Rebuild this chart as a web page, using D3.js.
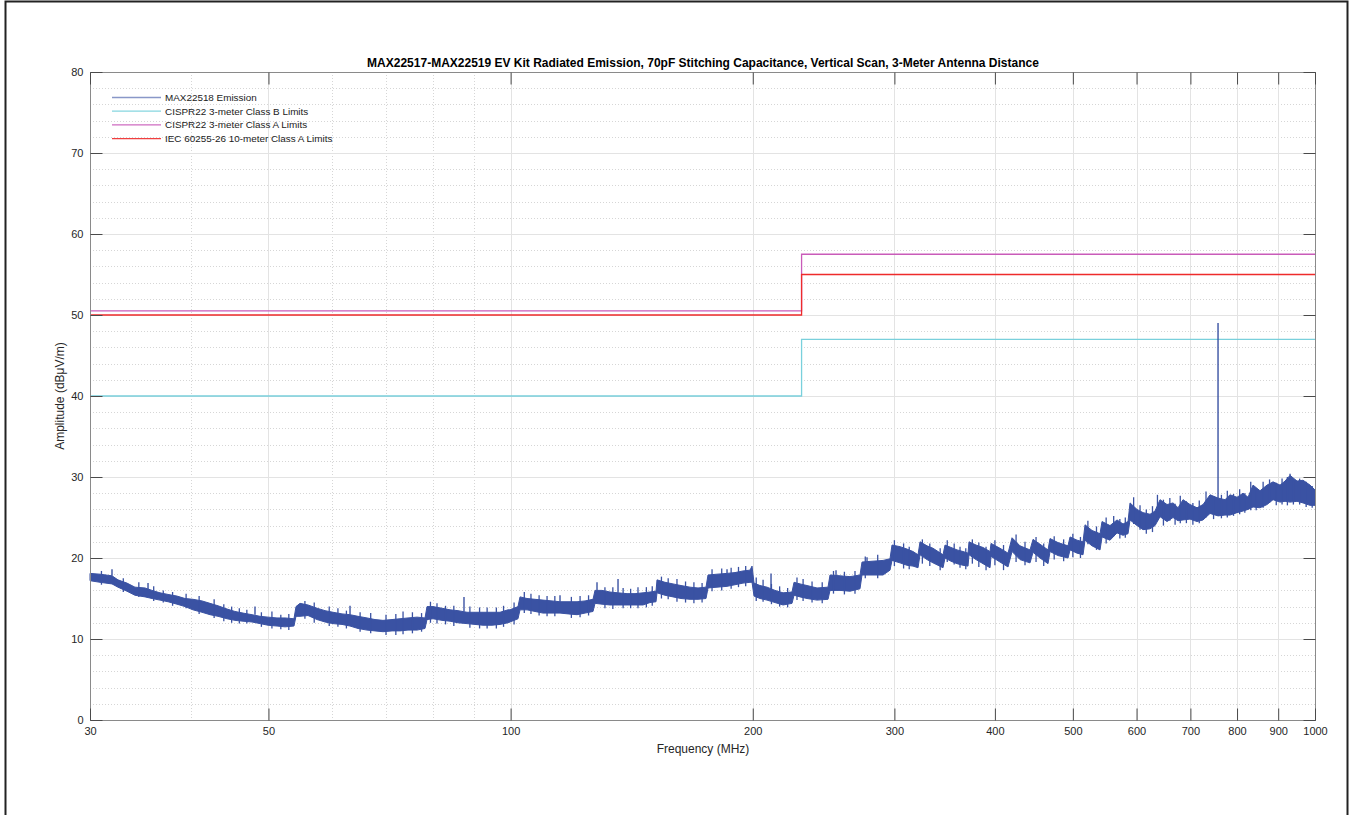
<!DOCTYPE html>
<html>
<head>
<meta charset="utf-8">
<script src="https://cdn.jsdelivr.net/npm/d3@7/dist/d3.min.js"></script>
<style>
  html, body { margin: 0; padding: 0; background: #fff; }
  svg { display: block; }
  text { font-family: Arial, "Liberation Sans", Helvetica, sans-serif; }
</style>
</head>
<body>
<svg id="chart" width="1351" height="815"></svg>
<script>
// ---------------- DATA ----------------
const titleText = "MAX22517-MAX22519 EV Kit Radiated Emission, 70pF Stitching Capacitance, Vertical Scan, 3-Meter Antenna Distance";
const xLabelText = "Frequency (MHz)";
const yLabelText = "Amplitude (dB\u03BCV/m)";

const xTicks = [30, 50, 100, 200, 300, 400, 500, 600, 700, 800, 900, 1000];
const xMinorGrid = [40, 60, 70, 80, 90];
const yTicks = [0, 10, 20, 30, 40, 50, 60, 70, 80];
const yMinorGrid = [2,4,6,8,12,14,16,18,22,24,26,28,32,34,36,38,42,44,46,48,52,54,56,58,62,64,66,68,72,74,76,78];

const seriesNames = ["MAX22518 Emission", "CISPR22 3-meter Class B Limits", "CISPR22 3-meter Class A Limits", "IEC 60255-26 10-meter Class A Limits"];

// Limit lines (step at 230 MHz)
const limitFreq = [30, 230, 230, 1000];
const classBLimit = [40, 40, 47, 47];
const classALimit = [50.5, 50.5, 57.5, 57.5];
const iecLimit = [50, 50, 55, 55];

// Emission envelope (measured noise band): frequency (MHz), lower and upper edge (dBuV/m)
const emFreq = [30.00,30.87,31.95,32.50,33.35,34.12,35.12,35.83,36.66,37.51,38.48,39.38,40.29,41.34,42.30,43.28,44.41,45.43,46.49,47.70,48.81,49.94,51.24,52.43,53.79,
  54.10,54.73,55.99,57.46,58.79,60.15,61.72,63.15,64.61,66.30,67.83,69.40,71.22,72.86,74.55,76.50,78.27,
  78.72,80.08,82.17,84.08,86.02,88.27,90.31,92.41,94.82,97.01,99.26,99.83,102.14,
  102.73,104.81,107.24,109.72,112.59,115.19,117.86,120.94,123.74,126.61,
  127.33,129.91,132.92,136.00,139.55,142.78,146.09,149.04,151.63,
  152.06,155.58,159.19,162.88,167.13,171.00,174.96,
  175.96,180.55,185.80,190.10,194.50,198.44,199.58,
  200.73,204.20,208.34,213.16,218.10,223.79,
  225.08,228.98,233.61,240.40,248.09,
  249.51,256.76,264.21,271.88,
  273.44,281.38,290.39,296.26,
  297.96,304.87,311.04,316.43,320.99,
  322.83,329.36,335.07,339.90,344.80,
  346.78,352.79,358.90,365.12,370.38,
  371.44,378.96,386.63,394.46,
  395.59,405.91,415.31,
  420.10,429.83,442.31,
  446.13,455.16,465.70,
  468.38,479.23,493.14,
  495.98,506.01,514.78,
  517.73,528.21,540.45,
  543.55,556.14,567.40,577.23,585.55,
  588.91,600.83,611.24,623.62,632.61,
  641.73,654.72,666.06,675.66,685.40,699.27,713.43,725.79,740.48,757.63,772.97,784.11,799.98,813.84,825.57,837.47,854.42,871.72,886.82,904.77,917.81,931.04,949.89,966.35,985.90,1000];
const emHi = [18.1,18.0,17.8,17.3,16.9,16.4,16.3,16.0,15.7,15.5,15.3,15.0,14.9,14.7,14.4,14.1,13.7,13.4,13.2,13.0,12.8,12.7,12.6,12.6,12.5,
  14.0,14.4,14.2,13.8,13.5,13.3,13.1,13.0,12.8,12.6,12.4,12.3,12.4,12.5,12.6,12.7,12.6,
  14.0,14.0,13.8,13.6,13.5,13.3,13.3,13.3,13.3,13.3,13.6,13.6,14.0,
  15.2,15.0,14.9,14.8,14.7,14.6,14.6,14.6,14.7,14.9,
  16.0,16.0,15.8,15.7,15.6,15.6,15.7,15.8,15.9,
  17.3,17.0,16.8,16.6,16.4,16.3,16.4,
  17.9,18.0,18.1,18.2,18.4,18.5,19.0,
  16.9,16.6,16.4,16.0,15.7,15.8,
  17.0,16.8,16.6,16.3,16.4,
  17.9,17.8,17.7,17.9,
  19.5,19.6,19.7,19.9,
  21.6,21.4,21.1,20.8,20.4,
  22.0,21.5,21.2,20.8,20.4,
  21.6,21.3,21.0,20.8,20.6,
  22.0,21.6,21.3,20.8,
  21.8,21.2,20.6,
  22.5,21.5,21.0,
  22.3,21.7,21.0,
  22.4,21.9,21.5,
  22.6,22.2,22.0,
  24.1,23.4,23.0,
  24.5,24.0,24.7,24.2,24.5,
  26.8,26.0,25.6,25.4,25.8,
  27.2,26.6,26.8,26.2,27.2,26.6,26.2,26.6,27.8,27.4,27.2,27.8,27.5,28.0,27.5,29.0,28.3,29.0,29.4,29.0,29.5,30.2,29.5,29.6,29.0,28.4];
const emLo = [17.2,17.0,16.8,16.4,15.9,15.4,15.2,15.0,14.8,14.6,14.3,14.0,13.6,13.3,13.0,12.8,12.5,12.3,12.2,12.1,11.9,11.7,11.6,11.5,11.6,
  12.8,12.8,12.9,12.4,12.1,11.9,11.8,11.6,11.3,11.1,11.0,10.9,11.0,11.0,11.1,11.1,11.3,
  12.4,12.5,12.3,12.2,12.0,11.9,11.8,11.7,11.7,11.8,12.0,12.1,12.5,
  13.6,13.6,13.4,13.2,13.2,13.2,13.1,13.0,13.2,13.4,
  14.4,14.3,14.2,14.2,14.2,14.2,14.2,14.5,14.6,
  15.7,15.4,15.2,15.0,14.9,14.9,15.0,
  16.3,16.4,16.5,16.7,16.9,17.0,17.0,
  15.3,15.0,14.8,14.5,14.2,14.4,
  15.4,15.2,15.0,14.8,14.9,
  16.0,16.0,15.9,16.2,
  17.9,17.9,17.9,18.5,
  19.7,19.4,19.1,19.0,18.8,
  20.4,19.8,19.4,19.1,18.8,
  20.0,19.6,19.3,19.1,19.0,
  20.4,19.8,19.3,18.8,
  20.2,19.5,18.9,
  20.8,19.8,19.4,
  20.7,20.0,19.3,
  20.8,20.3,20.0,
  21.0,20.6,20.4,
  22.2,21.5,21.0,
  22.6,22.2,23.1,22.8,23.0,
  24.7,24.0,23.5,23.6,24.0,
  25.1,24.5,25.0,24.6,24.7,24.8,24.5,24.7,25.5,25.2,25.3,25.3,25.6,25.8,26.0,26.3,26.2,26.6,27.2,26.9,27.0,26.9,27.0,26.8,26.5,26.5];

// Narrow emission spikes: frequency, base level, peak level
const spikeFreq = [31.95, 35.42, 48.11, 63.15, 87.51, 115.19, 128.06, 136.00, 185.80, 210.74, 253.83, 277.39, 757.63, 931.04];
const spikeBase = [17.8, 16.0, 13.0, 13.0, 13.4, 14.6, 16.0, 15.7, 18.1, 16.2, 17.8, 19.5, 27.4, 29.5];
const spikePeak = [18.6, 16.9, 14.0, 14.1, 15.2, 15.4, 17.0, 17.4, 18.6, 18.1, 18.5, 20.1, 49.0, 30.4];

// Noise excursions of the sweep: frequency, min and max reached
const noiseFreq = [31,33,34.5,36,37,38,39.5,41,42.8,44,45,46,47,49,50.5,51.8,53,55.5,57,59.5,61,62.5,65,67,70,72,73.5,75.5,77.5,
  79.5,81,83,85,89,91.5,93.5,96,98,101,104,106,108.5,111,113.5,119,122,125,131,134,138,141,144,147.5,150,
  154,157,161,165,169,173,178,183,188,192,196,202,206,211,216,221,227,231,237,244,252,260,268,276,286,
  300,308,313,325,332,342,349,356,362,368,375,382,390,400,410,425,436,450,460,474,487,500,511,522,535,550,
  562,572,581,595,606,617,628,637,648,660,670,680,692,705,718,732,748,765,778,792,806,818,832,845,862,878,895,910,924,940,957,975,992];
const noiseLo = [16.7,15.8,15.2,14.7,14.5,14.1,13.8,13.1,12.6,12.2,12.0,11.9,11.9,11.5,11.3,11.2,11.1,12.5,12.0,11.6,11.5,11.3,10.9,10.7,10.5,10.5,10.6,10.7,10.9,
  12.0,11.9,11.8,11.6,11.4,11.3,11.3,11.3,11.5,11.8,13.2,13.1,12.9,12.8,12.8,12.6,12.7,12.9,13.8,13.7,13.8,13.8,13.8,13.9,14.1,
  15.0,14.9,14.6,14.5,14.4,14.5,15.9,16.0,16.2,16.4,16.5,14.7,14.6,14.3,14.0,13.9,14.8,14.7,14.5,14.4,15.6,15.5,15.6,17.5,17.5,
  19.0,18.7,18.6,19.3,19.0,18.5,19.5,19.2,18.8,18.6,19.3,18.9,18.5,19.1,18.5,19.5,19.1,19.5,19.0,19.8,19.6,20.1,20.0,21.7,21.0,21.8,
  22.7,22.4,22.5,24.2,23.5,23.0,23.2,24.6,24.0,24.6,24.1,24.3,24.3,24.1,24.3,25.0,24.8,24.9,25.0,25.2,25.4,25.6,25.9,25.9,26.2,26.8,26.5,26.6,26.5,26.6,26.6,26.3,26.2];
const noiseHi = [18.4,17.5,17.0,16.5,16.0,15.8,15.6,15.3,14.9,14.3,14.0,13.8,13.6,13.3,13.4,13.0,13.1,14.7,14.5,14.0,13.8,13.5,13.3,13.2,13.0,13.1,13.4,13.3,13.2,
  14.6,14.4,14.1,14.1,14.0,13.9,13.9,13.9,14.1,14.5,15.8,15.6,15.4,15.3,15.3,15.2,15.3,15.4,16.4,16.4,16.3,16.2,16.4,16.4,16.5,
  17.7,17.5,17.4,17.1,17.0,16.9,18.6,18.7,18.8,18.9,19.0,17.6,17.3,16.8,16.5,16.3,17.6,17.4,17.1,17.0,18.4,18.3,18.4,20.2,20.4,
  22.2,21.8,21.4,22.3,21.8,21.2,22.2,21.8,21.4,21.2,22.3,21.9,21.4,22.2,21.6,22.9,22.0,22.6,21.8,22.7,22.3,23.0,22.6,24.6,23.9,25.0,
  25.2,24.8,25.0,27.5,26.5,26.0,26.4,27.8,27.2,27.4,26.7,27.7,27.0,26.8,27.1,28.2,27.6,27.8,28.3,27.9,28.5,28.0,29.4,28.6,29.4,29.7,29.3,29.8,30.0,29.6,29.8,29.4,28.9];

// ---------------- STYLE / LAYOUT ----------------
const colEm = "#3a52a3";
const colB = "#79d0dc";
const colA = "#c95bb9";
const colIEC = "#ee2b2b";
const m = { left: 90, top: 72, right: 1315, bottom: 720 };

const svg = d3.select("#chart");

// figure border
svg.append("rect").attr("x", 5.5).attr("y", 1.5).attr("width", 1342).attr("height", 820)
  .attr("fill", "none").attr("stroke", "#222").attr("stroke-width", 2);

const x = d3.scaleLog().domain([30, 1000]).range([m.left, m.right]);
const y = d3.scaleLinear().domain([0, 80]).range([m.bottom, m.top]);

const g = svg.append("g");

// minor grid
g.selectAll(".ymin").data(yMinorGrid).enter().append("line")
  .attr("x1", m.left).attr("x2", m.right)
  .attr("y1", d => Math.round(y(d)) + 0.5).attr("y2", d => Math.round(y(d)) + 0.5)
  .attr("stroke", "#d6d6d6").attr("stroke-width", 1).attr("stroke-dasharray", "1,2");
g.selectAll(".xmin").data(xMinorGrid).enter().append("line")
  .attr("y1", m.top).attr("y2", m.bottom)
  .attr("x1", d => Math.round(x(d)) + 0.5).attr("x2", d => Math.round(x(d)) + 0.5)
  .attr("stroke", "#d6d6d6").attr("stroke-width", 1).attr("stroke-dasharray", "1,2");
// major grid
g.selectAll(".ymaj").data(yTicks).enter().append("line")
  .attr("x1", m.left).attr("x2", m.right)
  .attr("y1", d => Math.round(y(d)) + 0.5).attr("y2", d => Math.round(y(d)) + 0.5)
  .attr("stroke", "#e3e3e3").attr("stroke-width", 1);
g.selectAll(".xmaj").data(xTicks).enter().append("line")
  .attr("y1", m.top).attr("y2", m.bottom)
  .attr("x1", d => Math.round(x(d)) + 0.5).attr("x2", d => Math.round(x(d)) + 0.5)
  .attr("stroke", "#e3e3e3").attr("stroke-width", 1);

// limit lines
const limLine = (vals) => d3.line().x((d, i) => x(limitFreq[i])).y((d) => y(d))(vals);
g.append("path").attr("d", limLine(classBLimit)).attr("fill", "none").attr("stroke", colB).attr("stroke-width", 1.3);
g.append("path").attr("d", limLine(classALimit)).attr("fill", "none").attr("stroke", colA).attr("stroke-width", 1.3);
g.append("path").attr("d", limLine(iecLimit)).attr("fill", "none").attr("stroke", colIEC).attr("stroke-width", 1.3);

// emission band
const band = d3.area()
  .x((d, i) => x(emFreq[i]))
  .y0((d, i) => y(emLo[i]))
  .y1((d, i) => y(emHi[i]));
g.append("path").attr("d", band(emFreq)).attr("fill", colEm).attr("stroke", colEm).attr("stroke-width", 1);

// noise excursions
g.selectAll(".noise").data(noiseFreq).enter().append("line")
  .attr("x1", d => x(d)).attr("x2", d => x(d))
  .attr("y1", (d, i) => y(noiseLo[i])).attr("y2", (d, i) => y(noiseHi[i]))
  .attr("stroke", colEm).attr("stroke-width", 1.3);

// spikes
g.selectAll(".spike").data(spikeFreq).enter().append("line")
  .attr("x1", d => x(d)).attr("x2", d => x(d))
  .attr("y1", (d, i) => y(spikeBase[i])).attr("y2", (d, i) => y(spikePeak[i]))
  .attr("stroke", colEm).attr("stroke-width", 1.4);

// axes box
const axCol = "#4a4a4a";
g.append("rect").attr("x", m.left + 0.5).attr("y", m.top + 0.5)
  .attr("width", m.right - m.left).attr("height", m.bottom - m.top)
  .attr("fill", "none").attr("stroke", "#8a8a8a").attr("stroke-width", 1);

// ticks (inward) using d3 axes
const xAxisB = d3.axisBottom(x).tickValues(xTicks).tickFormat(d3.format("d")).tickSizeInner(-12).tickSizeOuter(0).tickPadding(7);
const xAxisT = d3.axisTop(x).tickValues(xTicks).tickFormat("").tickSizeInner(-12).tickSizeOuter(0);
const yAxisL = d3.axisLeft(y).tickValues(yTicks).tickFormat(d3.format("d")).tickSizeInner(-12).tickSizeOuter(0).tickPadding(7);
const yAxisR = d3.axisRight(y).tickValues(yTicks).tickFormat("").tickSizeInner(-12).tickSizeOuter(0);

function styleAxis(sel) {
  sel.select(".domain").remove();
  sel.selectAll(".tick line").attr("stroke", axCol).attr("stroke-width", 1);
  sel.selectAll(".tick text").attr("fill", "#262626").style("font-size", "11px")
    .style("font-family", "Arial, 'Liberation Sans', Helvetica, sans-serif");
}
svg.append("g").attr("transform", `translate(0,${m.bottom + 0.5})`).call(xAxisB).call(styleAxis);
svg.append("g").attr("transform", `translate(0,${m.top + 0.5})`).call(xAxisT).call(styleAxis);
svg.append("g").attr("transform", `translate(${m.left + 0.5},0)`).call(yAxisL).call(styleAxis);
svg.append("g").attr("transform", `translate(${m.right + 0.5},0)`).call(yAxisR).call(styleAxis);

// title and labels
svg.append("text").attr("x", 703).attr("y", 67).attr("text-anchor", "middle")
  .style("font-size", "12px").style("font-weight", "bold").attr("fill", "#000").text(titleText);
svg.append("text").attr("x", 703).attr("y", 753).attr("text-anchor", "middle")
  .style("font-size", "12px").attr("fill", "#262626").text(xLabelText);
svg.append("text").attr("transform", `translate(64,${(m.top + m.bottom) / 2}) rotate(-90)`).attr("text-anchor", "middle")
  .style("font-size", "12px").attr("fill", "#262626").text(yLabelText);

// legend
const legCols = [colEm, colB, colA, colIEC];
const leg = svg.append("g").attr("transform", "translate(112,97)");
seriesNames.forEach((name, i) => {
  const row = leg.append("g").attr("transform", `translate(0,${i * 13.7})`);
  row.append("line").attr("x1", 0).attr("x2", 49).attr("y1", 0.5).attr("y2", 0.5)
    .attr("stroke", legCols[i]).attr("stroke-width", i === 0 ? 1.6 : 1.2).attr("stroke-opacity", i === 0 ? 0.6 : 0.9);
  row.append("text").attr("x", 53).attr("y", 4).style("font-size", "9.9px").attr("fill", "#1a1a1a").text(name);
});
</script>
</body>
</html>
